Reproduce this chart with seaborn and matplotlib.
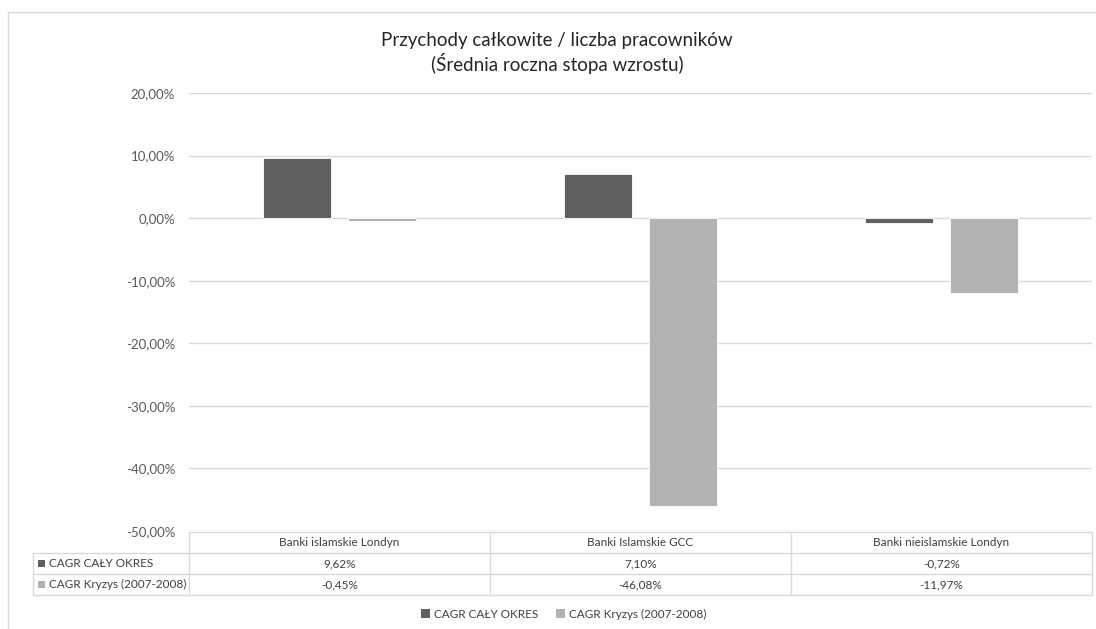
import matplotlib
matplotlib.use("Agg")
import matplotlib.pyplot as plt
import matplotlib.patches as mpatches
from matplotlib.lines import Line2D
from matplotlib.transforms import blended_transform_factory
import seaborn as sns
import pandas as pd

categories = ["Banki islamskie Londyn", "Banki Islamskie GCC", "Banki nieislamskie Londyn"]
series_names = ["CAGR CAŁY OKRES", "CAGR Kryzys (2007-2008)"]
cagr_full = [9.62, 7.10, -0.72]
cagr_crisis = [-0.45, -46.08, -11.97]
yticks = [20, 10, 0, -10, -20, -30, -40, -50]
colors = ["#606060", "#b2b2b2"]

title = "Przychody całkowite / liczba pracowników\n(Średnia roczna stopa wzrostu)"

sns.set_theme(style="white")
plt.rcParams["font.family"] = ["Lato", "DejaVu Sans"]

W, H = 1096, 629
fig = plt.figure(figsize=(W / 100, H / 100), dpi=100)

def fx(x):
    return x / W

def fy(y):
    return 1 - y / H

ax_left, ax_right, ax_top, ax_bottom = 189, 1092, 93, 531
ax = fig.add_axes([fx(ax_left), fy(ax_bottom), (ax_right - ax_left) / W, (ax_bottom - ax_top) / H])

df = pd.DataFrame({
    "Kategoria": categories * 2,
    "Seria": [series_names[0]] * 3 + [series_names[1]] * 3,
    "Wartość": cagr_full + cagr_crisis,
})

sns.barplot(data=df, x="Kategoria", y="Wartość", hue="Seria", order=categories,
            hue_order=series_names, palette=colors, width=0.564, gap=0.2,
            edgecolor="white", linewidth=0.6, saturation=1, ax=ax, legend=False)

ax.set_ylim(-50, 20)
ax.set_xlim(-0.5, 2.5)
ax.set_yticks(yticks)
ax.set_yticklabels([f"{v:.2f}%".replace(".", ",") for v in yticks], fontsize=9.5, color="#595959")
ax.set_xticks([])
ax.set_xlabel("")
ax.set_ylabel("")
ax.tick_params(axis="y", length=0, pad=10)
ax.grid(axis="y", color="#d9d9d9", linewidth=1)
ax.set_axisbelow(True)
for s in ax.spines.values():
    s.set_visible(False)

# chart border
fig.add_artist(mpatches.Rectangle((fx(8), fy(H + 10)), fx(W + 10) - fx(8), fy(12) - fy(H + 10),
                                  transform=fig.transFigure, fill=False,
                                  edgecolor="#d9d9d9", linewidth=1, clip_on=False))

# title
fig.text(fx(557), fy(53), title, ha="center", va="center", fontsize=13.5,
         color="#262626", linespacing=1.25)

# data table
line_c = "#d9d9d9"
txt_c = "#404040"
rows_y = [532, 553, 574, 595]
tr = blended_transform_factory(ax.transData, fig.transFigure)
fig.add_artist(Line2D([fx(ax_left), fx(ax_right)], [fy(rows_y[0])] * 2, color=line_c, lw=1, transform=fig.transFigure))
for yy in rows_y[1:]:
    fig.add_artist(Line2D([fx(33), fx(ax_right)], [fy(yy)] * 2, color=line_c, lw=1, transform=fig.transFigure))
fig.add_artist(Line2D([fx(33), fx(33)], [fy(rows_y[1]), fy(rows_y[3])], color=line_c, lw=1, transform=fig.transFigure))
for xb in [-0.5, 0.5, 1.5, 2.5]:
    fig.add_artist(Line2D([xb, xb], [fy(rows_y[0]), fy(rows_y[3])], color=line_c, lw=1, transform=tr, clip_on=False))

def fmt(v):
    return f"{v:.2f}%".replace(".", ",")

for i, cat in enumerate(categories):
    fig.text(i, fy((rows_y[0] + rows_y[1]) / 2), cat, transform=tr, ha="center", va="center", fontsize=8.5, color=txt_c)
    fig.text(i, fy((rows_y[1] + rows_y[2]) / 2), fmt(cagr_full[i]), transform=tr, ha="center", va="center", fontsize=8.5, color=txt_c)
    fig.text(i, fy((rows_y[2] + rows_y[3]) / 2), fmt(cagr_crisis[i]), transform=tr, ha="center", va="center", fontsize=8.5, color=txt_c)

for r, (name, c) in enumerate(zip(series_names, colors)):
    yc = (rows_y[r + 1] + rows_y[r + 2]) / 2
    fig.add_artist(mpatches.Rectangle((fx(38), fy(yc + 3.5)), 7 / W, 7 / H, transform=fig.transFigure,
                                      facecolor=c, edgecolor="none"))
    fig.text(fx(49), fy(yc), name, ha="left", va="center", fontsize=8.5, color=txt_c)

# legend
handles = [mpatches.Patch(facecolor=c, edgecolor="none", label=n) for n, c in zip(series_names, colors)]
fig.legend(handles=handles, loc="center", bbox_to_anchor=(fx(564), fy(614)), ncol=2, frameon=False,
           fontsize=8.5, handlelength=0.7, handleheight=0.7, handletextpad=0.4, columnspacing=1.5,
           labelcolor=txt_c)

fig.savefig("out.png", dpi=100, facecolor="white")
